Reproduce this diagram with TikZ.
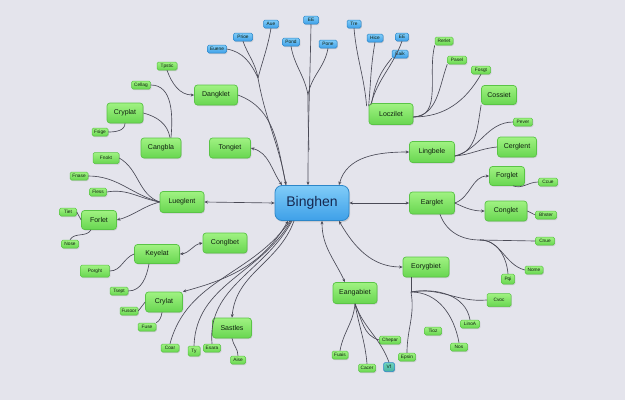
\documentclass[tikz,border=0pt]{standalone}
\usepackage{fontspec}
\setmainfont{Liberation Sans}
\usetikzlibrary{shadows,arrows.meta}
\definecolor{bg}{RGB}{228,228,236}
\definecolor{gtop}{RGB}{160,242,130}
\definecolor{gbot}{RGB}{104,214,80}
\definecolor{gborder}{RGB}{90,196,70}
\definecolor{btop}{RGB}{128,204,248}
\definecolor{bbot}{RGB}{62,160,232}
\definecolor{bborder}{RGB}{44,134,200}
\definecolor{vtop}{RGB}{110,210,190}
\definecolor{vbot}{RGB}{70,180,160}
\definecolor{lc}{RGB}{74,74,86}
\definecolor{txt}{RGB}{16,32,16}
\definecolor{ctxt}{RGB}{22,40,80}
\tikzset{
  gb/.style={draw=gborder, line width=0.7pt, rounded corners=3pt, top color=gtop, bottom color=gbot,
    inner sep=0pt, font=\fontsize{7}{8}\selectfont, text=txt,
    drop shadow={shadow xshift=0.8pt, shadow yshift=-1pt, opacity=0.25}},
  gs/.style={gb, rounded corners=1.5pt, minimum height=8pt, line width=0.5pt, font=\fontsize{4.8}{5}\selectfont},
  bs/.style={gs, draw=bborder, top color=btop, bottom color=bbot},
  cb/.style={draw=bborder, line width=0.8pt, rounded corners=7pt, top color=btop, bottom color=bbot,
    inner sep=0pt, font=\fontsize{14}{16}\selectfont, text=ctxt,
    drop shadow={shadow xshift=1pt, shadow yshift=-1.5pt, opacity=0.25}},
  conn/.style={draw=lc, line width=0.65pt},
  ar/.style={conn, -{Stealth[length=3.5pt,width=3pt]}},
  ab/.style={conn, {Stealth[length=3.5pt,width=3pt]}-{Stealth[length=3.5pt,width=3pt]}},
}
\begin{document}
\begin{tikzpicture}[x=1pt,y=-1pt]
\fill[bg] (0,0) rectangle (625,400);
\useasboundingbox (0,0) rectangle (625,400);

% center
\node[cb, minimum width=74pt, minimum height=35pt] (B) at (312,203) {Binghen};

% main green nodes
\node[gb, minimum width=43pt, minimum height=20pt] (dang) at (216,95) {Dangklet};
\node[gb, minimum width=36pt, minimum height=20pt] (cryp) at (125,113) {Cryplat};
\node[gb, minimum width=40pt, minimum height=20pt] (cang) at (161,148) {Cangbla};
\node[gb, minimum width=41pt, minimum height=20pt] (tong) at (230,148) {Tongiet};
\node[gb, minimum width=44pt, minimum height=21pt] (lueg) at (182,202) {Lueglent};
\node[gb, minimum width=35pt, minimum height=19pt] (forl) at (99,220) {Forlet};
\node[gb, minimum width=45pt, minimum height=19pt] (keye) at (157,254) {Keyelat};
\node[gb, minimum width=44pt, minimum height=20pt] (cong) at (225,243) {Conglbet};
\node[gb, minimum width=37pt, minimum height=20pt] (cryl) at (164,302) {Crylat};
\node[gb, minimum width=39pt, minimum height=20pt] (sast) at (232,328) {Sastles};
\node[gb, minimum width=44pt, minimum height=21pt] (eang) at (355,293) {Eangabiet};
\node[gb, minimum width=46pt, minimum height=20pt] (eory) at (426,267) {Eorygbiet};
\node[gb, minimum width=45pt, minimum height=22pt] (earg) at (432,203) {Earglet};
\node[gb, minimum width=35pt, minimum height=19pt] (forg) at (507,176) {Forglet};
\node[gb, minimum width=42pt, minimum height=20pt] (conl) at (506,211) {Conglet};
\node[gb, minimum width=45pt, minimum height=21pt] (ling) at (432,152) {Lingbele};
\node[gb, minimum width=39pt, minimum height=20pt] (cerg) at (517,147) {Cerglent};
\node[gb, minimum width=44pt, minimum height=21pt] (locz) at (391,114) {Loczilet};
\node[gb, minimum width=35pt, minimum height=19pt] (coss) at (499,95) {Cossiet};

% small green nodes
\node[gs, minimum width=20pt] (tpst) at (167,66) {Tpstic};
\node[gs, minimum width=19pt] (cell) at (141,85) {Cellag};
\node[gs, minimum width=16pt] (fsig) at (100,132) {Fsige};
\node[gs, minimum width=26pt, minimum height=11pt] (fnok) at (106,158) {Fnokt};
\node[gs, minimum width=18pt] (fnas) at (79,176) {Fnase};
\node[gs, minimum width=17pt] (fles) at (98,192) {Fless};
\node[gs, minimum width=17pt] (tiet) at (68,212) {Tiet};
\node[gs, minimum width=17pt] (nose) at (70,244) {Nose};
\node[gs, minimum width=29pt, minimum height=12pt] (porg) at (95,271) {Porght};
\node[gs, minimum width=18pt] (tsep) at (119,291) {Tsept};
\node[gs, minimum width=18pt] (fuso) at (129,311) {Fusoor};
\node[gs, minimum width=18pt] (fuse) at (147,327) {Fuse};
\node[gs, minimum width=18pt] (coar) at (170,348) {Coar};
\node[gs, minimum width=12pt, minimum height=10pt] (ty) at (194,351) {Ty};
\node[gs, minimum width=17pt] (esar) at (212,348) {Esara};
\node[gs, minimum width=15pt] (aise) at (238,360) {Aise};
\node[gs, minimum width=16pt] (fuai) at (340,355) {Fuais};
\node[gs, minimum width=17pt] (cace) at (367,368) {Cacer};
\node[gs, minimum width=11pt, minimum height=9pt, draw=bborder, top color=vtop, bottom color=vbot] (vf) at (389,367) {Vf};
\node[gs, minimum width=21pt] (chep) at (390,340) {Chepar};
\node[gs, minimum width=17pt] (epsi) at (407,357) {Epsin};
\node[gs, minimum width=17pt] (nos) at (459,347) {Nos};
\node[gs, minimum width=17pt] (tioz) at (433,331) {Tioz};
\node[gs, minimum width=19pt] (lino) at (470,324) {LinoA};
\node[gs, minimum width=24pt, minimum height=13pt] (cvoc) at (499,300) {Cvoc};
\node[gs, minimum width=13pt, minimum height=10pt] (pqi) at (508,279) {Pqi};
\node[gs, minimum width=18pt] (nome) at (534,270) {Nome};
\node[gs, minimum width=19pt] (cnue) at (545,241) {Cnue};
\node[gs, minimum width=21pt] (bhst) at (546,215) {Bhster};
\node[gs, minimum width=19pt] (ccue) at (548,182) {Ccue};
\node[gs, minimum width=19pt] (peve) at (523,122) {Pever};
\node[gs, minimum width=18pt] (rerl) at (444,41) {Rerlet};
\node[gs, minimum width=19pt] (pase) at (457,60) {Pasel};
\node[gs, minimum width=19pt] (fosg) at (481,70) {Fosgt};

% small blue nodes
\node[bs, minimum width=19pt] (euen) at (217,49) {Euene};
\node[bs, minimum width=19pt] (prio) at (243,37) {Prioe};
\node[bs, minimum width=15pt] (aue) at (271,24) {Aue};
\node[bs, minimum width=17pt] (pond) at (291,42) {Pond};
\node[bs, minimum width=15pt] (ee) at (311,20) {EE};
\node[bs, minimum width=18pt] (pone) at (328,44) {Pone};
\node[bs, minimum width=14pt] (tre) at (354,24) {Tre};
\node[bs, minimum width=16pt] (hice) at (375,38) {Hice};
\node[bs, minimum width=13pt] (eetw) at (402,37) {EE};
\node[bs, minimum width=16pt] (eaik) at (400,54) {Eaik};

% junctions
\coordinate (j1) at (258,78);
\coordinate (j2) at (308,95);
\coordinate (j4) at (480,240);
\coordinate (j5) at (411,292);

% top-left blue group to center
\draw[conn] (euen.east) to[out=-10,in=115] (j1);
\draw[conn] (prio.south) to[out=-70,in=100] (j1);
\draw[conn] (aue.south) to[out=-100,in=75] (j1);
\draw[ar] (j1) to[out=-80,in=100] ([xshift=-26pt]B.north);
\draw[conn] (dang.east) to[out=-20,in=102] ([xshift=-26pt]B.north);
% top-middle blue group
\draw[conn] (pond.south) to[out=-80,in=100] (j2);
\draw[conn] (pone.south) to[out=-100,in=80] (j2);
\draw[ar] (ee.south) to[out=-91,in=90] ([xshift=-4pt]B.north);
\draw[conn] (j2) to[out=-90,in=92] (309,150);
% top-right blue group to Loczilet
\draw[conn] (tre.south) to[out=-85,in=95] ([xshift=-2pt,yshift=-3pt]locz.north west);
\draw[conn] (hice.south) to[out=-100,in=85] ([xshift=0pt,yshift=-3pt]locz.north west);
\draw[conn] (eetw.south) to[out=-110,in=75] ([xshift=2pt,yshift=-2pt]locz.north west);
\draw[conn] (eaik.south west) to[out=-130,in=80] ([xshift=3pt]locz.north west);
% Loczilet to right small nodes
\draw[conn] ([yshift=-3pt]locz.east) to[out=0,in=-105] (rerl.south west);
\draw[conn] ([yshift=-3pt]locz.east) to[out=5,in=-110] (pase.south west);
\draw[conn] ([yshift=-3pt]locz.east) to[out=0,in=-120] (fosg.south);
% Lingbele
\draw[ab] ([xshift=27pt]B.north) to[out=75,in=180] (ling.west);
\draw[conn] ([yshift=-4pt]ling.east) to[out=10,in=-100] (coss.south west);
\draw[conn] ([yshift=-4pt]ling.east) to[out=15,in=180] (peve.west);
\draw[conn] ([yshift=-4pt]ling.east) to[out=5,in=185] (cerg.west);
% Earglet
\draw[ab] (B.east) -- (earg.west);
\draw[ar] (earg.east) to[out=20,in=180] (forg.west);
\draw[ar] (earg.east) to[out=-25,in=180] (conl.west);
\draw[conn] ([xshift=6pt]forg.south) to[out=-20,in=180] (ccue.west);
\draw[conn] (conl.east) -- (bhst.west);
\draw[conn] ([xshift=8pt]earg.south) to[out=-70,in=180] (j4);
\draw[conn] (j4) -- (cnue.west);
\draw[conn] (j4) to[out=0,in=95] (pqi.north);
\draw[conn] (j4) to[out=0,in=165] (nome.west);
% Eorygbiet
\draw[ab] ([xshift=27pt]B.south) to[out=-60,in=180] (eory.west);
\draw[conn] ([xshift=-15pt]eory.south) -- (j5);
\draw[conn] (j5) to[out=10,in=185] (cvoc.west);
\draw[conn] (j5) to[out=10,in=100] (lino.north);
\draw[conn] (j5) to[out=0,in=100] (nos.north);
\draw[conn] (j5) to[out=-80,in=90] (epsi.north);
% Eangabiet
\draw[ab] ([xshift=10pt]B.south) to[out=-90,in=115] ([xshift=-10pt]eang.north);
\draw[conn] (eang.south) to[out=-95,in=80] (fuai.north);
\draw[conn] (eang.south) to[out=-80,in=95] (cace.north);
\draw[conn] (eang.south) to[out=-70,in=110] (vf.north);
\draw[conn] (eang.south) to[out=-65,in=165] (chep.west);
% left side
\draw[ab] (tong.east) to[out=-15,in=125] ([xshift=-30pt]B.north);
\draw[ab] (lueg.east) -- (B.west);
\draw[ab] (keye.east) to[out=5,in=190] (cong.west);
\draw[ar] (tpst.south) to[out=-70,in=180] (dang.west);
\draw[conn] (cell.east) to[out=0,in=85] ([xshift=10pt]cang.north);
\draw[conn] (cryp.east) to[out=-15,in=100] ([xshift=9pt]cang.north);
\draw[conn] (cryp.south) to[out=-90,in=0] (fsig.east);
\draw[conn] (fnok.east) to[out=-30,in=160] (lueg.west);
\draw[conn] (fnas.east) to[out=0,in=165] (lueg.west);
\draw[conn] (fles.east) to[out=10,in=170] (lueg.west);
\draw[ar] (lueg.west) to[out=195,in=15] (forl.east);
\draw[conn] (tiet.east) -- (forl.west);
\draw[conn] ([xshift=-8pt]forl.south) to[out=-120,in=60] (nose.north);
\draw[conn] (keye.west) to[out=200,in=0] (porg.east);
\draw[conn] ([xshift=-8pt]keye.south) to[out=-100,in=0] (tsep.east);
\draw[conn] (cryl.west) -- (fuso.east);
\draw[conn] ([xshift=-2pt]cryl.south) to[out=-100,in=30] (fuse.north east);
\draw[conn] (sast.south) to[out=-80,in=90] (aise.north);
% bottom-left from center
\draw[ab] ([xshift=-24pt]B.south) to[out=-120,in=15] (cryl.north east);
\draw[ar] ([xshift=-18pt]B.south) to[out=-110,in=85] (sast.north);
\draw[conn] ([xshift=-22pt]B.south) to[out=-125,in=75] (coar.north);
\draw[conn] ([xshift=-21pt]B.south) to[out=-120,in=88] (ty.north);
\draw[conn] ([xshift=-20pt]B.south) to[out=-118,in=95] (esar.north);
\end{tikzpicture}
\end{document}
